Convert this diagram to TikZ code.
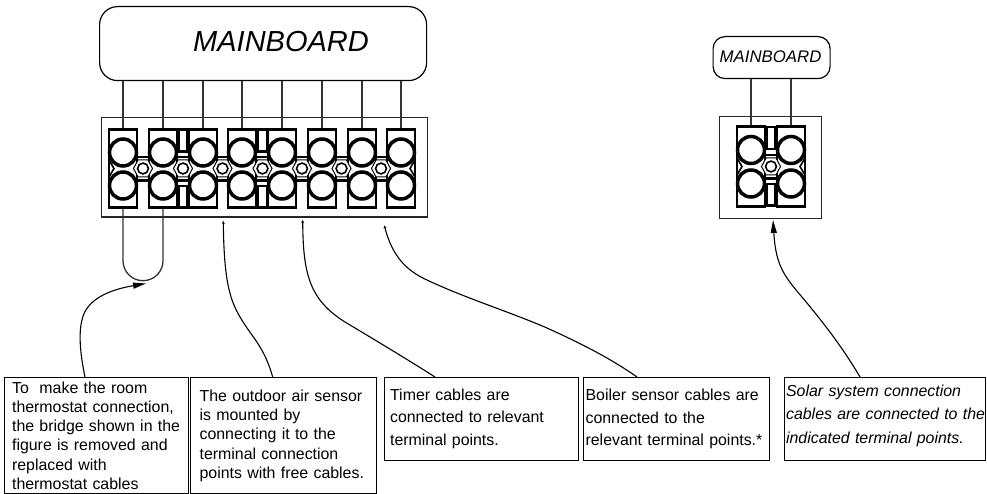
\documentclass[tikz,border=0pt]{standalone}
\usepackage{fontspec}
\setmainfont{Liberation Sans}
\usetikzlibrary{arrows.meta,calc}
\tikzset{
  board/.style={draw=black,line width=1.2pt,rounded corners=18pt,anchor=north west,inner sep=0pt,fill=white},
  housing/.style={draw=black!85,line width=1.3pt,anchor=north west,inner sep=0pt},
  cell/.style={draw=black,line width=2.4pt,fill=white,minimum width=28pt,minimum height=78pt,inner sep=0pt},
  slot/.style={draw=black,line width=2.2pt,fill=white,minimum width=9pt,inner sep=0pt},
  bar/.style={draw=black,line width=2.2pt},
  hexa/.style={draw=black,line width=1pt,fill=white},
  hole/.style={draw=black,line width=3.5pt,fill=white},
  pin/.style={draw=black,line width=1.6pt,fill=white},
  wedge/.style={draw=black,line width=1.6pt},
  wire/.style={draw=black!80,line width=1.3pt},
  note/.style={draw=black,line width=1.2pt,anchor=north west,inner ysep=0pt,align=left},
  tallnote/.style={note,font=\fontsize{15.9}{19.3}\selectfont},
  lownote/.style={note,font=\fontsize{15.9}{22.5}\selectfont},
  lead/.style={draw=black,line width=1.1pt},
  bigtip/.style={-{Triangle[length=13pt,width=6pt]}},
  smalltip/.style={-{Stealth[length=3pt,width=3pt]}}
}
\newcommand{\oneline}[1]{\makebox[0pt][l]{#1}}
\newcommand{\junction}[1]{%
  \draw[bar] (#1-11,157) -- (#1+11,157) (#1-11,180.5) -- (#1+11,180.5);
  \draw[hexa] (#1-9.5,168.5) -- (#1-5,160) -- (#1+5,160) -- (#1+9.5,168.5) -- (#1+5,177) -- (#1-5,177) -- cycle;
  \draw[pin] (#1,168.5) circle (5.4);
}
\begin{document}
\begin{tikzpicture}[x=1pt,y=-1pt]
\useasboundingbox (0,0) rectangle (987,494);
\fill[white] (0,0) rectangle (987,494);
% boards
\node[board,minimum width=327pt,minimum height=74pt] (mbA) at (99,6) {};
\node[font=\fontsize{29}{34}\selectfont\itshape] (mbAt) at (281,42) {MAINBOARD};
\node[board,rounded corners=12pt,minimum width=117pt,minimum height=42pt] (mbB) at (712.5,36) {};
\node[font=\fontsize{16.8}{20}\selectfont\itshape] (mbBt) at (770.5,57) {MAINBOARD};
% housings
\node[housing,minimum width=326pt,minimum height=99.5pt] (hA) at (101,117) {};
\node[housing,minimum width=102pt,minimum height=102pt] (hB) at (719,116) {};
% cells
\foreach \n/\x in {1/123,2/163,3/203,4/242,5/282,6/322,7/362,8/401}{
  \node[cell] (c\n) at (\x,168.5) {};
}
\node[cell,minimum height=80pt] (d1) at (751,166.5) {};
\node[cell,minimum height=80pt] (d2) at (791,166.5) {};
% outer wedges where two holes meet the cell side
\draw[wedge] (109,160) -- (114,168.5) -- (109,177) (415,160) -- (410,168.5) -- (415,177);
\draw[wedge] (737,158) -- (742,166.5) -- (737,175) (805,158) -- (800,166.5) -- (805,175);
% junctions
\foreach \x in {143,183,222.5,262.5,302,341.5,381}{\junction{\x}}
\begin{scope}[yshift=2pt]\junction{771}\end{scope}
% narrow slots
\foreach \n/\x/\a/\b in {1/183/129.5/151.5,2/262.5/129.5/151.5,3/771/127/149}{
  \node[slot,minimum height=22pt] (st\n) at (\x,{(\a+\b)/2}) {};
}
\foreach \n/\x/\a/\b in {1/183/186/207.5,2/262.5/186/207.5,3/771/184/205.5}{
  \node[slot,minimum height=21.5pt] (sb\n) at (\x,{(\a+\b)/2}) {};
}
% holes
\foreach \x in {123,163,203,242,282,322,362,401}{
  \draw[hole] (\x,152.5) circle (13.5);
  \draw[hole] (\x,185.5) circle (13.5);
}
\foreach \x in {751,791}{
  \draw[hole] (\x,150) circle (13.5);
  \draw[hole] (\x,183.5) circle (13.5);
}
% wires
\foreach \n in {1,...,8}{\draw[wire] (c\n.north |- mbA.south) -- (c\n.north);}
\foreach \n in {1,2}{\draw[wire] (d\n.north |- mbB.south) -- (d\n.north);}
% bridge
\draw[wire] (c1.south) -- ++(0,52) arc[start angle=180,end angle=0,radius=20] -- (c2.south);
% notes
\node[tallnote,inner xsep=8pt,minimum width=184pt,minimum height=116pt,text width=168pt] (n1) at (3.5,377) {\oneline{To~ make the room}\\\oneline{thermostat connection,}\\\oneline{the bridge shown in the}\\\oneline{figure is removed and}\\\oneline{replaced with}\\\oneline{thermostat cables}};
\node[tallnote,inner xsep=9pt,minimum width=186pt,minimum height=116pt,text width=168pt] (n2) at (190,377) {\oneline{The outdoor air sensor}\\\oneline{is mounted by}\\\oneline{connecting it to the}\\\oneline{terminal connection}\\\oneline{points with free cables.}};
\node[lownote,inner xsep=6pt,minimum width=194pt,minimum height=83pt,text width=182pt] (n3) at (383.5,377) {\oneline{Timer cables are}\\\oneline{connected to relevant}\\\oneline{terminal points.}\\[-18pt]\mbox{}};
\node[lownote,inner xsep=2pt,minimum width=186pt,minimum height=83pt,text width=182pt] (n4) at (583,377) {\oneline{Boiler sensor cables are}\\\oneline{connected to the}\\\oneline{relevant terminal points.*}};
\node[lownote,inner xsep=1.5pt,minimum width=201pt,minimum height=83pt,text width=198pt,font=\fontsize{15.9}{23.3}\selectfont\itshape] (n5) at (784,377) {\oneline{Solar system connection}\\\oneline{cables are connected to the}\\\oneline{indicated terminal points.}\\[-13pt]\mbox{}};
% leaders
\coordinate (t1) at (146,283.5);
\coordinate (t2) at (223.3,221);
\coordinate (t3) at (302.7,220);
\coordinate (t4) at (384.3,225.5);
\coordinate (t5) at (773,220);
\draw[lead,bigtip] ($(n1.north west)+(81.5,0)$) .. controls (81,358) and (78,335) .. (82,320) .. controls (86,300) and (108,290) .. (t1);
\draw[lead,smalltip] ($(n2.north west)+(82.7,0)$) .. controls (265,350) and (255,340) .. (245,325) .. controls (232,305) and (224,290) .. (t2);
\draw[lead,smalltip] ($(n3.north west)+(51.5,0)$) .. controls (410,361) and (380,343) .. (345,322) .. controls (310,300) and (303,275) .. (t3);
\draw[lead,smalltip] ($(n4.north west)+(54,0)$) .. controls (610,358) and (580,343) .. (547,328) .. controls (510,312) and (465,298) .. (427,280) .. controls (405,270) and (392,255) .. (t4);
\draw[lead,bigtip] ($(n5.north west)+(76,0)$) .. controls (843,348) and (825,325) .. (807,303) .. controls (785,277) and (776,268) .. (t5);
\end{tikzpicture}
\end{document}
